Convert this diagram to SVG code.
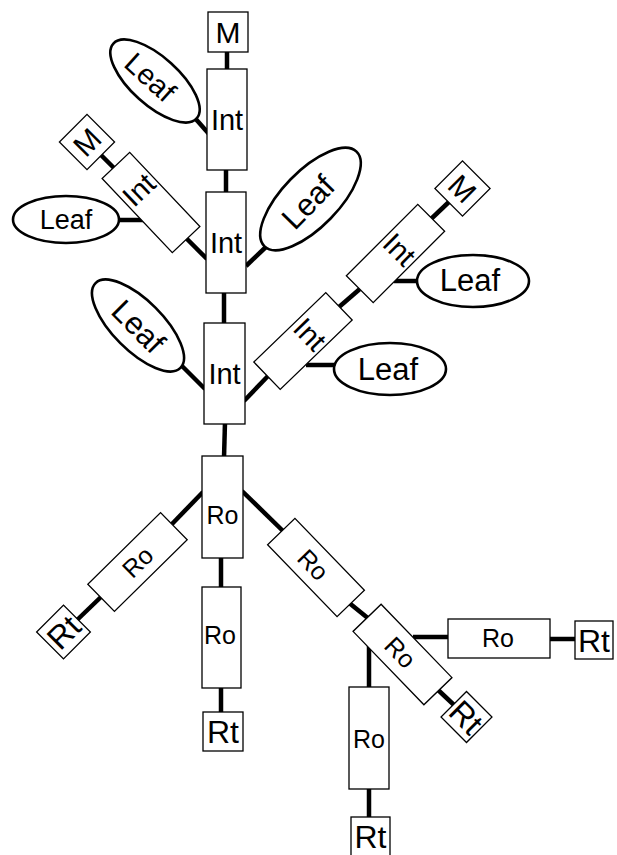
<svg xmlns="http://www.w3.org/2000/svg" width="617" height="855" viewBox="0 0 617 855">
<style>
.bg{fill:#fff}
.box{fill:#fff;stroke:#000;stroke-width:1.3}
.leaf{fill:#fff;stroke:#000;stroke-width:2.6}
.con line{stroke:#000;stroke-width:4.5;stroke-linecap:butt}
text{font-family:"Liberation Sans",Arial,sans-serif;fill:#000;text-anchor:middle}
.int{font-size:29px}
.m{font-size:30px}
.lf{font-size:31px}
.ro{font-size:25px}
.rt{font-size:32px}
</style>
<rect class="bg" x="0" y="0" width="617" height="855"/>
<g id="connectors" class="con">
<line x1="227" y1="50" x2="227" y2="71"/>
<line x1="226" y1="168" x2="226" y2="194"/>
<line x1="224" y1="291" x2="224" y2="325"/>
<line x1="225" y1="422" x2="224" y2="458"/>
<line x1="194" y1="117" x2="209" y2="134"/>
<line x1="100" y1="154" x2="115" y2="169"/>
<line x1="118" y1="220" x2="144" y2="220"/>
<line x1="185" y1="237" x2="207" y2="259"/>
<line x1="246" y1="266" x2="268" y2="245"/>
<line x1="182" y1="366" x2="205" y2="389"/>
<line x1="244" y1="401" x2="268" y2="376"/>
<line x1="339" y1="307" x2="361" y2="288"/>
<line x1="431" y1="219" x2="451" y2="200"/>
<line x1="394" y1="281" x2="419" y2="281"/>
<line x1="306" y1="365" x2="336" y2="365"/>
<line x1="172" y1="524" x2="203" y2="492"/>
<line x1="76" y1="621" x2="102" y2="596"/>
<line x1="242" y1="491" x2="283" y2="531"/>
<line x1="348" y1="602" x2="369" y2="619"/>
<line x1="413" y1="637" x2="450" y2="637"/>
<line x1="548" y1="639" x2="577" y2="639"/>
<line x1="436" y1="688" x2="454" y2="705"/>
<line x1="369" y1="646" x2="369" y2="689"/>
<line x1="369" y1="787" x2="369" y2="819"/>
<line x1="221" y1="556" x2="221" y2="589"/>
<line x1="221" y1="686" x2="221" y2="714"/>
</g>
<g id="m1"><rect class="box" x="208" y="12" width="40" height="40"/><text class="m" x="228" y="32" dy="0.36em">M</text></g>
<g id="int1"><rect class="box" x="207" y="69" width="40" height="101"/><text class="int" x="227" y="120" dy="0.36em">Int</text></g>
<g id="int2"><rect class="box" x="206" y="192" width="40" height="101"/><text class="int" x="226" y="243" dy="0.36em">Int</text></g>
<g id="int3"><rect class="box" x="204" y="323" width="41" height="101"/><text class="int" x="224.5" y="373.5" dy="0.36em">Int</text></g>
<g id="leaf1" transform="translate(155,81) rotate(42)"><ellipse class="leaf" cx="0" cy="0" rx="56" ry="24"/><text class="lf" x="-6" y="0" dy="0.36em" style="font-size:29px">Leaf</text></g>
<g id="int4" transform="translate(151,202.5) rotate(-43.5)"><rect class="box" x="-19" y="-51" width="38" height="102"/><text class="int" x="0" y="-18" dy="0.36em">Int</text></g>
<g id="m2" transform="translate(87,142) rotate(-45)"><rect class="box" x="-19.5" y="-19.5" width="39" height="39"/><text class="m" x="0" y="0" dy="0.36em">M</text></g>
<g id="leaf2"><ellipse class="leaf" cx="66" cy="219.5" rx="53" ry="23.5"/><text class="lf" x="66" y="219.5" dy="0.36em" style="font-size:27px">Leaf</text></g>
<g id="leaf3" transform="translate(310.5,199) rotate(-45.8)"><ellipse class="leaf" cx="0" cy="0" rx="66" ry="28"/><text class="lf" x="-4" y="0" dy="0.36em">Leaf</text></g>
<g id="int5" transform="translate(395.5,253.5) rotate(45)"><rect class="box" x="-19" y="-50.5" width="38" height="101"/><text class="int" x="0" y="-6" dy="0.36em">Int</text></g>
<g id="m3" transform="translate(462.5,188.5) rotate(45)"><rect class="box" x="-19.5" y="-19.5" width="39" height="39"/><text class="m" x="0" y="0" dy="0.36em">M</text></g>
<g id="leaf4"><ellipse class="leaf" cx="473" cy="281" rx="56" ry="26"/><text class="lf" x="470" y="280" dy="0.36em">Leaf</text></g>
<g id="int6" transform="translate(303,341) rotate(46)"><rect class="box" x="-19" y="-50" width="38" height="100"/><text class="int" x="0" y="-10" dy="0.36em">Int</text></g>
<g id="leaf5"><ellipse class="leaf" cx="390" cy="369" rx="56" ry="26"/><text class="lf" x="388" y="368.5" dy="0.36em">Leaf</text></g>
<g id="leaf6" transform="translate(138,325.5) rotate(45)"><ellipse class="leaf" cx="0" cy="0" rx="60" ry="25"/><text class="lf" x="1" y="0" dy="0.36em">Leaf</text></g>
<g id="ro1"><rect class="box" x="202" y="456" width="41" height="102"/><text class="ro" x="222.5" y="515" dy="0.36em">Ro</text></g>
<g id="ro2" transform="translate(137.5,562) rotate(-44.5)"><rect class="box" x="-51" y="-19" width="102" height="38"/><text class="ro" x="0" y="0" dy="0.36em">Ro</text></g>
<g id="rt1" transform="translate(63.5,632) rotate(-45)"><rect class="box" x="-19" y="-19" width="38" height="38"/><text class="rt" x="0" y="0" dy="0.36em">Rt</text></g>
<g id="ro3"><rect class="box" x="202" y="587" width="39" height="101"/><text class="ro" x="220" y="635" dy="0.36em">Ro</text></g>
<g id="rt2"><rect class="box" x="203" y="712" width="40" height="39"/><text class="rt" x="223" y="731.5" dy="0.36em">Rt</text></g>
<g id="ro4" transform="translate(316,567.5) rotate(46)"><rect class="box" x="-50" y="-19" width="100" height="38"/><text class="ro" x="-4" y="0" dy="0.36em">Ro</text></g>
<g id="ro5" transform="translate(402.5,654.5) rotate(46)"><rect class="box" x="-51" y="-19.5" width="102" height="39"/><text class="ro" x="-3" y="0" dy="0.36em">Ro</text></g>
<g id="ro6"><rect class="box" x="448" y="619" width="102" height="39"/><text class="ro" x="498" y="638" dy="0.36em">Ro</text></g>
<g id="rt3"><rect class="box" x="575" y="621" width="38" height="38"/><text class="rt" x="594" y="640" dy="0.36em">Rt</text></g>
<g id="rt4" transform="translate(466.5,717) rotate(45)"><rect class="box" x="-18" y="-18" width="36" height="36"/><text class="rt" x="0" y="0" dy="0.36em">Rt</text></g>
<g id="ro7"><rect class="box" x="349" y="687" width="40" height="102"/><text class="ro" x="369" y="739" dy="0.36em">Ro</text></g>
<g id="rt5"><rect class="box" x="351" y="817" width="39" height="39"/><text class="rt" x="370.5" y="836" dy="0.36em">Rt</text></g>
</svg>
